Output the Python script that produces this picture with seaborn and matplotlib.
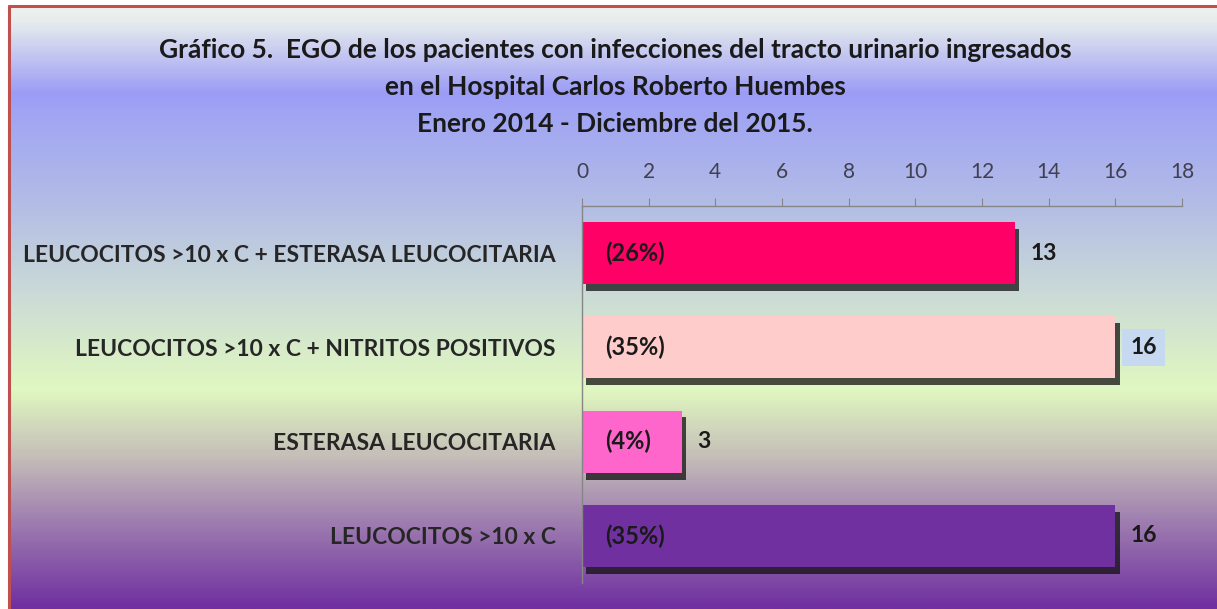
import numpy as np
import matplotlib
matplotlib.use("Agg")
import matplotlib.pyplot as plt
import matplotlib.patheffects as pe
from matplotlib.colors import LinearSegmentedColormap
from matplotlib.lines import Line2D
import seaborn as sns

# data
categories = [
    "LEUCOCITOS >10 x C + ESTERASA LEUCOCITARIA",
    "LEUCOCITOS >10 x C + NITRITOS POSITIVOS",
    "ESTERASA LEUCOCITARIA",
    "LEUCOCITOS >10 x C",
]
counts = [13, 16, 3, 16]
percents = ["(26%)", "(35%)", "(4%)", "(35%)"]
bar_colors = ["#ff0066", "#ffcccc", "#ff66cc", "#7030a0"]
x_ticks = list(range(0, 19, 2))
title = ("Gráfico 5.  EGO de los pacientes con infecciones del tracto urinario ingresados\n"
         "en el Hospital Carlos Roberto Huembes\n"
         "Enero 2014 - Diciembre del 2015.")

sns.set_style("white")
plt.rcParams["font.family"] = ["Lato", "DejaVu Sans"]

fig = plt.figure(figsize=(12.17, 6.09), dpi=100)

# background gradient
bg = fig.add_axes([0, 0, 1, 1], zorder=-10)
grad = LinearSegmentedColormap.from_list("bg", [
    (0.0, "#f2f5ef"), (0.033, "#e6ecec"), (0.15, "#9c9cf6"), (0.18, "#a0a4f4"),
    (0.33, "#b2bce6"), (0.49, "#ccdcd6"), (0.64, "#e0f8c0"), (0.755, "#c4bcb8"),
    (0.855, "#a080b0"), (1.0, "#7030a0")])
bg.imshow(np.linspace(0, 1, 300).reshape(-1, 1), aspect="auto", cmap=grad,
          extent=[0, 1, 0, 1], origin="upper")
bg.set_xlim(0, 1)
bg.set_ylim(0, 1)
bg.axis("off")

# border (top and left visible)
W, H = 1217, 609
fig.add_artist(Line2D([9 / W, 9 / W], [0, 1 - 6 / H], color="#c0504d", lw=2.2))
fig.add_artist(Line2D([9 / W, 1], [1 - 6 / H, 1 - 6 / H], color="#c0504d", lw=2.2))
# white outside the border
fig.add_artist(plt.Rectangle((0, 1 - 5 / H), 1, 5 / H, color="white", zorder=-5))
fig.add_artist(plt.Rectangle((0, 0), 8 / W, 1, color="white", zorder=-5))

ax = fig.add_axes([582 / W, 1 - 583 / H, 600 / W, (583 - 206) / H])
ax.set_facecolor("none")

sns.barplot(x=counts, y=categories, hue=categories, palette=bar_colors,
            legend=False, width=0.66, ax=ax, saturation=1, edgecolor="none")

for p in ax.patches:
    p.set_path_effects([pe.SimplePatchShadow(offset=(3, -5), shadow_rgbFace="#111111", alpha=0.75),
                        pe.Normal()])

ax.set_xlim(0, 18)
ax.set_xticks(x_ticks)
ax.xaxis.tick_top()
ax.tick_params(axis="x", direction="out", length=6, color="#868686", pad=11,
               labelsize=15, labelcolor="#404050")
ax.tick_params(axis="y", length=0, pad=19, labelsize=16.5)
for lab in ax.get_yticklabels():
    lab.set_fontweight("bold")
ax.set_xlabel("")
ax.set_ylabel("")
for s in ["right", "bottom"]:
    ax.spines[s].set_visible(False)
for s in ["top", "left"]:
    ax.spines[s].set_color("#868686")
    ax.spines[s].set_linewidth(1)

for i, (v, pct) in enumerate(zip(counts, percents)):
    ax.text(0.7, i, pct, ha="left", va="center", fontsize=17, fontweight="bold", color="#1a1a1a")
    box = dict(boxstyle="square,pad=0.35", fc="#c6d9f1", ec="none") if i == 1 else None
    ax.text(v + 0.45, i, str(v), ha="left", va="center", fontsize=16.5, fontweight="bold",
            color="#1a1a1a", bbox=box)

fig.text(615 / W, 1 - 87 / H, title, ha="center", va="center", fontsize=19,
         fontweight="bold", linespacing=1.65, color="#1a1a1a")

fig.savefig("out.png", dpi=100)
